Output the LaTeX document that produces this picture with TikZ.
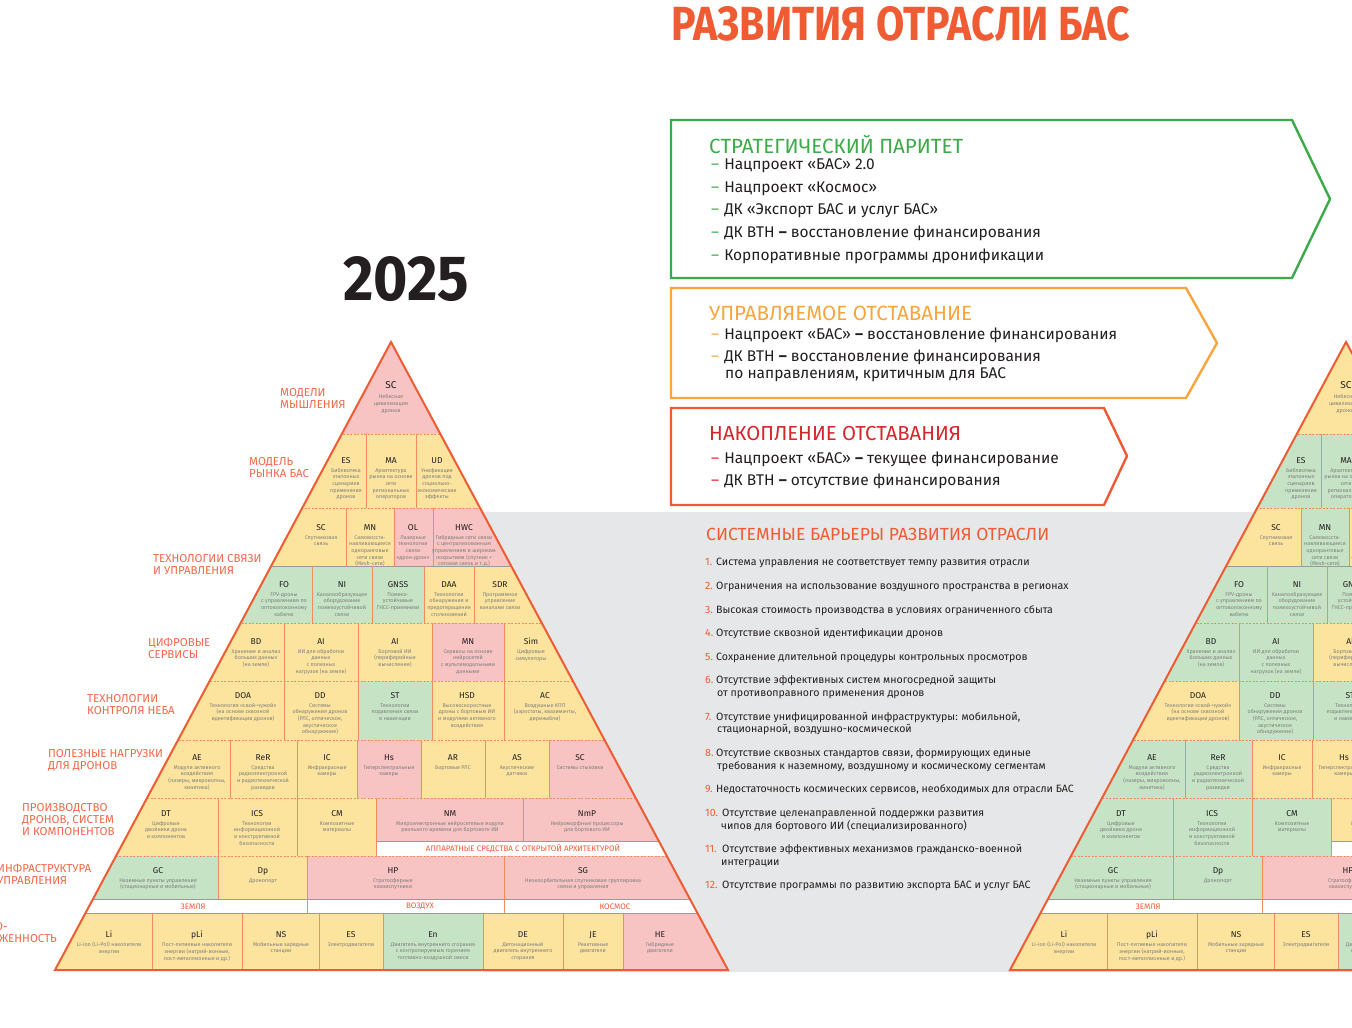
\documentclass[tikz,border=0pt]{standalone}
\usepackage{fontspec}
\setmainfont{Fira Sans}
\usepackage{graphicx}
\usetikzlibrary{positioning}
\definecolor{basorange}{HTML}{EF5B33}
\definecolor{lblorange}{HTML}{F0694A}
\definecolor{divorange}{HTML}{F28C5C}
\definecolor{cellpink}{HTML}{F7C3C3}
\definecolor{cellyellow}{HTML}{FCE49E}
\definecolor{cellgreen}{HTML}{C6E3C5}
\definecolor{bandgray}{HTML}{E6E7E8}
\definecolor{boxgreen}{HTML}{3DAA4A}
\definecolor{boxorange}{HTML}{F8A53D}
\definecolor{boxred}{HTML}{EE5A36}
\definecolor{titlered}{HTML}{D5262B}
\definecolor{textdark}{HTML}{231F20}
\definecolor{descgray}{HTML}{808080}
\definecolor{linegray}{HTML}{9A9A9A}

\newcommand\codefont{\fontsize{8.5}{10}\selectfont\color{textdark}}
\newcommand\descfont{\fontsize{5.4}{6.7}\selectfont}
% one cell text: name, position, code, description
\newcommand\pcell[4]{\node[celltext] (#1) at (#2) {{\codefont #3}\\[2.3pt]#4};}
\newcommand\bn[1]{\makebox[11pt][l]{\textcolor{basorange}{#1}}}
\newcommand\bnn[1]{\makebox[17pt][l]{\textcolor{basorange}{#1}}}
\newcommand\idash[1]{\textcolor{#1}{–}\hspace{5pt}}
\newcommand\bdash{{\bfseries –}}

% grid of one pyramid (inside its clip)
\newcommand\pyrlines{%
  \foreach \y in {434,508,623,681,740,798,856}
    \draw[rowsep] (0,\y) -- (760,\y);
  \draw[graysep] (0,566) -- (760,566);
  \draw[graysep] (376,841) -- (760,841);
  \draw[graysep] (0,899) -- (760,899) (0,913) -- (760,913);
  \foreach \x/\ya/\yb in {366/434/508, 416/434/508,
      346/508/566, 394/508/566, 433/508/566,
      312/566/623, 372/566/623, 424/566/623, 474/566/623,
      284/623/681, 358/623/681, 432/623/681, 504/623/681,
      284/681/740, 358/681/740, 432/681/740, 504/681/740,
      230/740/798, 297/740/798, 357/740/798, 421/740/798, 485/740/798, 549/740/798,
      218/798/856, 297/798/856, 376/798/856, 523/798/841,
      218/856/899, 307/856/913, 504/856/913,
      152/913/970, 242/913/970, 319/913/970, 383/913/970, 483/913/970, 563/913/970, 623/913/970}
    \draw[coldiv] (\x,\ya) -- (\x,\yb);
}

% texts of one pyramid
\newcommand\pyrtext{%
  \node[celltext] (sc1) at (391,381) {{\fontsize{10}{11}\selectfont\color{textdark}SC}\\[4pt]Небесная\\цивилизация\\дронов};
  % model of the market
  \pcell{es}{346,457}{ES}{Библиотека\\эталонных\\сценариев\\применения\\дронов}
  \pcell{ma}{391,457}{MA}{Архитектура\\рынка на основе\\сети\\региональных\\операторов}
  \pcell{ud}{437,457}{UD}{Унификация\\дронов под\\социально-\\экономические\\эффекты}
  % communication
  \pcell{sc3}{321,524}{SC}{Спутниковая\\связь}
  \pcell{mn3}{370,524}{MN}{Самовосста-\\навливающиеся\\одноранговые\\сети связи\\(Mesh-сети)}
  \pcell{ol}{413,524}{OL}{Лазерные\\технологии\\связи\\«дрон-дрон»}
  \pcell{hwc}{464,524}{HWC}{Гибридные сети связи\\с централизованным\\управлением и широким\\покрытием (спутник +\\сотовая связь и т.\,д.)}
  \pcell{fo}{284,581}{FO}{FPV-дроны\\с управлением по\\оптоволоконному\\кабелю}
  \pcell{ni}{342,581}{NI}{Каналообразующее\\оборудование\\помехоустойчивой\\связи}
  \pcell{gnss}{398,581}{GNSS}{Помехо-\\устойчивые\\ГНСС-приемники}
  \pcell{daa}{449,581}{DAA}{Технологии\\обнаружения и\\предотвращения\\столкновений}
  \pcell{sdr}{500,581}{SDR}{Программное\\управление\\каналами связи}
  % digital services
  \pcell{bd}{256,638}{BD}{Хранение и анализ\\больших данных\\(на земле)}
  \pcell{aig}{321,638}{AI}{ИИ для обработки\\данных\\с полезных\\нагрузок (на земле)}
  \pcell{aib}{395,638}{AI}{Бортовой ИИ\\(периферийные\\вычисления)}
  \pcell{mn5}{468,638}{MN}{Сервисы на основе\\нейросетей\\с мультимодальными\\данными}
  \pcell{sim}{531,638}{Sim}{Цифровые\\симуляторы}
  % sky control
  \pcell{doa}{243,692}{DOA}{Технология «свой-чужой»\\(на основе сквозной\\идентификации дронов)}
  \pcell{dd}{320,692}{DD}{Системы\\обнаружения дронов\\(РЛС, оптическое,\\акустическое\\обнаружение)}
  \pcell{st}{395,692}{ST}{Технологии\\подавления связи\\и навигации}
  \pcell{hsd}{467,692}{HSD}{Высокоскоростные\\дроны с бортовым ИИ\\и модулями активного\\воздействия}
  \pcell{ac}{545,692}{AC}{Воздушные КПП\\(аэростаты, квазимачты,\\дирижабли)}
  % payloads
  \pcell{ae}{197,754}{AE}{Модули активного\\воздействия\\(лазеры, микроволны,\\кинетика)}
  \pcell{rer}{263,754}{ReR}{Средства\\радиоэлектронной\\и радиотехнической\\разведки}
  \pcell{ic}{327,754}{IC}{Инфракрасные\\камеры}
  \pcell{hs}{389,754}{Hs}{Гиперспектральные\\камеры}
  \pcell{ar}{453,754}{AR}{Бортовые РЛС}
  \pcell{as}{517,754}{AS}{Акустические\\датчики}
  \pcell{sc7}{580,754}{SC}{Системы стыковки}
  % production
  \pcell{dt}{166,810}{DT}{Цифровые\\двойники дрона\\и компонентов}
  \pcell{ics}{257,810}{ICS}{Технологии\\информационной\\и конструктивной\\безопасности}
  \pcell{cm}{337,810}{CM}{Композитные\\материалы}
  \pcell{nm}{450,810}{NM}{Микроэлектронные нейросетевые модули\\реального времени для бортового ИИ}
  \pcell{nmp}{587,810}{NmP}{Нейроморфные процессоры\\для бортового ИИ}
  \node[bartext] (hwbar) at (523,848.5) {АППАРАТНЫЕ СРЕДСТВА С ОТКРЫТОЙ АРХИТЕКТУРОЙ};
  % infrastructure
  \pcell{gc}{158,867}{GC}{Наземные пункты управления\\(стационарные и мобильные)}
  \pcell{dp}{263,867}{Dp}{Дронопорт}
  \pcell{hp}{393,867}{HP}{Стратосферные\\квазиспутники}
  \pcell{sg}{583,867}{SG}{Низкоорбитальная спутниковая группировка\\связи и управления}
  \node[bartext] (earth) at (193,906.5) {ЗЕМЛЯ};
  \node[bartext] (air) at (420,906.5) {ВОЗДУХ};
  \node[bartext] (space) at (615,906.5) {КОСМОС};
  % energy
  \pcell{li}{109,931}{Li}{Li-ion (Li-Pol) накопители\\энергии}
  \pcell{pli}{197,931}{pLi}{Пост-литиевые накопители\\энергии (натрий-ионные,\\пост-металлионные и др.)}
  \pcell{ns}{281,931}{NS}{Мобильные зарядные\\станции}
  \pcell{es10}{351,931}{ES}{Электродвигатели}
  \pcell{en}{433,931}{En}{Двигатель внутреннего сгорания\\с контролируемым горением\\топливно-воздушной смеси}
  \pcell{de}{523,931}{DE}{Детонационный\\двигатель внутреннего\\сгорания}
  \pcell{je}{593,931}{JE}{Реактивные\\двигатели}
  \pcell{he}{660,931}{HE}{Гибридные\\двигатели}
}

\begin{document}
\begin{tikzpicture}[x=1pt, y=-1pt,
    rowsep/.style={divorange, line width=0.6pt, dash pattern=on 2pt off 1.5pt},
    graysep/.style={linegray, line width=0.8pt},
    coldiv/.style={divorange, line width=1pt},
    pyredge/.style={basorange, line width=2pt, line join=miter},
    celltext/.style={anchor=north, align=center, inner sep=0pt, text=descgray, font=\descfont},
    bartext/.style={text=basorange, font=\fontsize{8}{9}\selectfont, inner sep=0pt},
    lbl/.style={anchor=west, align=left, inner sep=0pt, text=lblorange, font=\fontsize{11.5}{12}\selectfont},
    chevron/.style={line width=2.4pt, line join=miter},
    boxtitle/.style={anchor=west, inner sep=0pt},
    boxitem/.style={anchor=west, inner sep=0pt, text=textdark, font=\fontsize{15.5}{18}\selectfont},
    barrier/.style={anchor=west, align=left, inner sep=0pt, text=textdark, font=\fontsize{10.6}{12.4}\selectfont}
  ]
  \useasboundingbox (0,0) rectangle (1352,1028);
  \clip (0,0) rectangle (1352,1028);
  \fill[white] (0,0) rectangle (1352,1028);
  \fill[bandgray] (483,512) rectangle (1352,972);

  % pyramid 2025
  \begin{scope}
    \clip (391,342) -- (55,970) -- (728,970) -- cycle;
    \fill[cellyellow] (0,340) rectangle (760,972);
    \fill[cellpink] (0,340) rectangle (760,434);
    \fill[cellpink] (394,508) rectangle (760,566);
    \fill[cellgreen] (0,566) rectangle (424,623);
    \fill[cellpink] (432,623) rectangle (504,681);
    \fill[cellgreen] (358,681) rectangle (432,740);
    \fill[cellpink] (357,740) rectangle (421,798) (549,740) rectangle (760,798);
    \fill[cellpink] (376,798) rectangle (760,841);
    \fill[white] (376,841) rectangle (760,856);
    \fill[cellgreen] (0,856) rectangle (218,899);
    \fill[cellpink] (307,856) rectangle (760,899);
    \fill[white] (0,899) rectangle (760,913);
    \fill[cellgreen] (383,913) rectangle (483,970);
    \fill[cellpink] (623,913) rectangle (760,970);
    \pyrlines
  \end{scope}
  \draw[pyredge] (391,342) -- (55,970) -- (728,970) -- cycle;
  \begin{scope}[name prefix=l-]
    \pyrtext
  \end{scope}

  % pyramid on the right
  \begin{scope}[xshift=955pt, name prefix=r-]
    \begin{scope}
      \clip (391,342) -- (55,970) -- (728,970) -- cycle;
      \fill[cellyellow] (0,340) rectangle (760,972);
      \fill[cellgreen] (0,434) rectangle (416,508);
      \fill[cellgreen] (346,508) rectangle (394,566);
      \fill[cellgreen] (0,566) rectangle (424,623);
      \fill[cellgreen] (0,623) rectangle (358,681);
      \fill[cellgreen] (284,681) rectangle (432,740);
      \fill[cellgreen] (0,740) rectangle (297,798);
      \fill[cellgreen] (0,798) rectangle (376,856);
      \fill[white] (376,841) rectangle (760,856);
      \fill[cellgreen] (0,856) rectangle (307,899);
      \fill[cellpink] (307,856) rectangle (504,899);
      \fill[white] (0,899) rectangle (760,913);
      \fill[cellgreen] (383,913) rectangle (483,970);
      \pyrlines
    \end{scope}
    \draw[pyredge] (391,342) -- (55,970) -- (728,970) -- cycle;
    \pyrtext
  \end{scope}

  % level labels
  \node[lbl] (lab1) at (280,399) {МОДЕЛИ\\МЫШЛЕНИЯ};
  \node[lbl] (lab2) at (249,468) {МОДЕЛЬ\\РЫНКА БАС};
  \node[lbl] (lab3) at (153,565) {ТЕХНОЛОГИИ СВЯЗИ\\И УПРАВЛЕНИЯ};
  \node[lbl] (lab4) at (148,648) {ЦИФРОВЫЕ\\СЕРВИСЫ};
  \node[lbl] (lab5) at (87,705) {ТЕХНОЛОГИИ\\КОНТРОЛЯ НЕБА};
  \node[lbl] (lab6) at (48,760) {ПОЛЕЗНЫЕ НАГРУЗКИ\\ДЛЯ ДРОНОВ};
  \node[lbl] (lab7) at (22,820) {ПРОИЗВОДСТВО\\ДРОНОВ, СИСТЕМ\\И КОМПОНЕНТОВ};
  \node[lbl] (lab8) at (-3,874) {ИНФРАСТРУКТУРА\\УПРАВЛЕНИЯ};
  \node[lbl] (lab9) at (-37,933) {ЭНЕРГО-\\ВООРУЖЕННОСТЬ};

  % year and title
  \node[anchor=north west, inner sep=0pt, text=textdark] (year) at (343,256) {\resizebox{126pt}{44pt}{\bfseries 2025}};
  \node[anchor=north west, inner sep=0pt, text=basorange] (title) at (671,6) {\resizebox{459pt}{34pt}{\bfseries РАЗВИТИЯ ОТРАСЛИ БАС}};

  % scenario boxes
  \draw[chevron, draw=boxgreen, fill=white] (671,120) -- (1292,120) -- (1330,199) -- (1292,278) -- (671,278) -- cycle;
  \node[boxtitle, text=boxgreen] (parity) at (709,144) {\resizebox{254pt}{!}{\fontsize{18}{20}\selectfont СТРАТЕГИЧЕСКИЙ ПАРИТЕТ}};
  \node[boxitem] (g1) at (711,166) {\idash{boxgreen}Нацпроект «БАС» 2.0};
  \node[boxitem] (g2) at (711,188.5) {\idash{boxgreen}Нацпроект «Космос»};
  \node[boxitem] (g3) at (711,211) {\idash{boxgreen}ДК «Экспорт БАС и услуг БАС»};
  \node[boxitem] (g4) at (711,233.5) {\idash{boxgreen}ДК ВТН \bdash{} восстановление финансирования};
  \node[boxitem] (g5) at (711,256) {\idash{boxgreen}Корпоративные программы дронификации};

  \draw[chevron, draw=boxorange, fill=white] (671,288) -- (1186,288) -- (1217,343) -- (1186,398) -- (671,398) -- cycle;
  \node[boxtitle, text=boxorange] (managed) at (709,313) {\resizebox{263pt}{!}{\fontsize{18}{20}\selectfont УПРАВЛЯЕМОЕ ОТСТАВАНИЕ}};
  \node[boxitem] (o1) at (711,335) {\idash{boxorange}Нацпроект «БАС» \bdash{} восстановление финансирования};
  \node[boxitem] (o2) at (711,357) {\idash{boxorange}ДК ВТН \bdash{} восстановление финансирования};
  \node[boxitem] (o3) at (725,375) {по направлениям, критичным для БАС};

  \draw[chevron, draw=boxred, fill=white] (671,408) -- (1104,408) -- (1127,456) -- (1104,505) -- (671,505) -- cycle;
  \node[boxtitle, text=titlered] (lagging) at (709,434) {\resizebox{252pt}{!}{\fontsize{18}{20}\selectfont НАКОПЛЕНИЕ ОТСТАВАНИЯ}};
  \node[boxitem] (r1) at (711,459) {\idash{titlered}Нацпроект «БАС» \bdash{} текущее финансирование};
  \node[boxitem] (r2) at (711,481) {\idash{titlered}ДК ВТН \bdash{} отсутствие финансирования};

  % barriers
  \node[boxtitle, text=basorange] (barriers) at (706,534) {\resizebox{343pt}{!}{\fontsize{16}{18}\selectfont СИСТЕМНЫЕ БАРЬЕРЫ РАЗВИТИЯ ОТРАСЛИ}};
  \node[barrier] (b1) at (705,563) {\bn{1.}Система управления не соответствует темпу развития отрасли};
  \node[barrier] (b2) at (705,587) {\bn{2.}Ограничения на использование воздушного пространства в регионах};
  \node[barrier] (b3) at (705,610.5) {\bn{3.}Высокая стоимость производства в условиях ограниченного сбыта};
  \node[barrier] (b4) at (705,634) {\bn{4.}Отсутствие сквозной идентификации дронов};
  \node[barrier] (b5) at (705,658) {\bn{5.}Сохранение длительной процедуры контрольных просмотров};
  \node[barrier] (b6) at (705,687) {\bn{6.}Отсутствие эффективных систем многосредной защиты\\\hspace*{12pt}от противоправного применения дронов};
  \node[barrier] (b7) at (705,723.5) {\bn{7.}Отсутствие унифицированной инфраструктуры: мобильной,\\\hspace*{12pt}стационарной, воздушно-космической};
  \node[barrier] (b8) at (705,760) {\bn{8.}Отсутствие сквозных стандартов связи, формирующих единые\\\hspace*{12pt}требования к наземному, воздушному и космическому сегментам};
  \node[barrier] (b9) at (705,790) {\bn{9.}Недостаточность космических сервисов, необходимых для отрасли БАС};
  \node[barrier] (b10) at (705,820) {\bnn{10.}Отсутствие целенаправленной поддержки развития\\\hspace*{16pt}чипов для бортового ИИ (специализированного)};
  \node[barrier] (b11) at (705,856) {\bnn{11.}Отсутствие эффективных механизмов гражданско-военной\\\hspace*{16pt}интеграции};
  \node[barrier] (b12) at (705,886) {\bnn{12.}Отсутствие программы по развитию экспорта БАС и услуг БАС};
\end{tikzpicture}
\end{document}
